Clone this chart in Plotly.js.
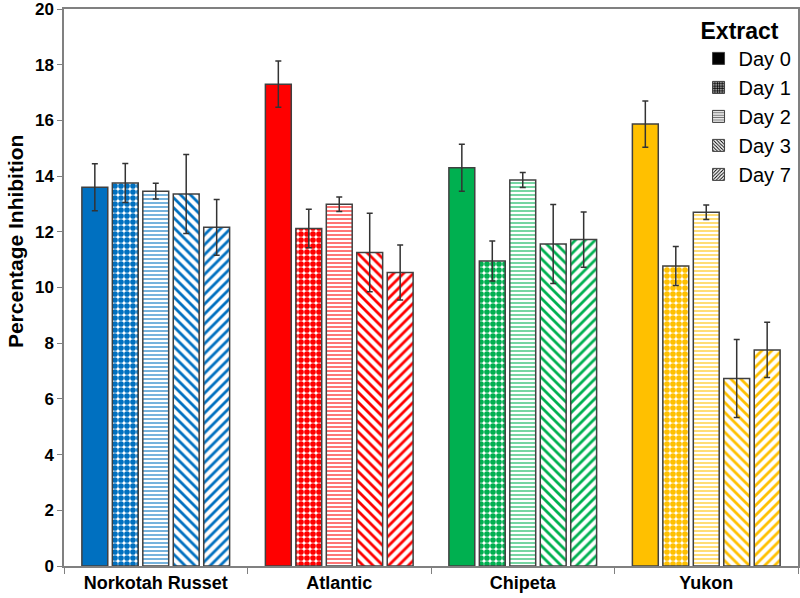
<!DOCTYPE html>
<html>
<head>
<meta charset="utf-8">
<script src="https://cdn.plot.ly/plotly-3.0.1.min.js"></script>
<style>html,body{margin:0;padding:0;background:#fff;}#chart{width:800px;height:598px;}</style>
</head>
<body>
<div id="chart"></div>
<script>
const categories = ["Norkotah Russet", "Atlantic", "Chipeta", "Yukon"];
const days = ["Day 0", "Day 1", "Day 2", "Day 3", "Day 7"];
const colors = ["#0070C0", "#FF0000", "#00B050", "#FFC000"];
const day0 = [13.6, 17.3, 14.3, 15.87];
const day1 = [13.75, 12.12, 10.95, 10.77];
const day2 = [13.46, 12.99, 13.86, 12.7];
const day3 = [13.36, 11.26, 11.56, 6.73];
const day7 = [12.16, 10.54, 11.72, 7.76];
const err0 = [0.84, 0.83, 0.84, 0.83];
const err1 = [0.7, 0.69, 0.72, 0.7];
const err2 = [0.28, 0.26, 0.27, 0.26];
const err3 = [1.42, 1.41, 1.42, 1.4];
const err7 = [1.0, 0.99, 0.99, 0.99];
const yTitle = "Percentage Inhibition";

const values = [day0, day1, day2, day3, day7];
const errors = [err0, err1, err2, err3, err7];
const patterns = [
  {shape: ""},
  {shape: ".", size: 6, solidity: 0.7},
  {shape: "-", size: 4, solidity: 0.45, fgopacity: 0.6},
  {shape: "\\", size: 7, solidity: 0.4},
  {shape: "/", size: 7, solidity: 0.4}
];

const traces = [];
days.forEach((d, i) => {
  const pat = Object.assign({}, patterns[i]);
  if (pat.shape) { pat.fgcolor = colors; pat.bgcolor = "#ffffff"; pat.fillmode = "replace"; }
  traces.push({
    type: "bar", x: categories, y: values[i], name: d, showlegend: false,
    marker: {color: colors, line: {color: "#404040", width: 1.5}, pattern: pat},
    error_y: {type: "data", array: errors[i], visible: true, color: "#333333", thickness: 1.5, width: 3}
  });
});
// legend-only swatches (black), on a hidden overlay axis
days.forEach((d, i) => {
  const pat = Object.assign({}, patterns[i]);
  if (pat.shape) { pat.fgcolor = "#000000"; pat.bgcolor = "#ffffff"; pat.fillmode = "replace"; pat.size = 3; }
  traces.push({
    type: "bar", x: ["_"], y: [0], name: d, xaxis: "x2", yaxis: "y2", showlegend: true,
    marker: {color: "#000000", line: {color: "#404040", width: 1}, pattern: pat},
    hoverinfo: "skip"
  });
});

const layout = {
  width: 800, height: 598,
  margin: {l: 64, r: 2, t: 9, b: 32},
  paper_bgcolor: "#ffffff", plot_bgcolor: "#ffffff",
  font: {family: "Liberation Sans, Arial, sans-serif", color: "#000000"},
  barmode: "group", bargap: 0.17, bargroupgap: 0.15,
  xaxis: {
    type: "category", tickson: "boundaries", ticks: "outside", ticklen: 6, tickcolor: "#808080",
    showline: true, linecolor: "#808080", linewidth: 1.5, mirror: true, showgrid: false,
    tickfont: {size: 18, weight: "bold", color: "#000"}
  },
  yaxis: {
    range: [0, 20], dtick: 2, ticks: "outside", ticklen: 5, tickcolor: "#808080",
    showline: true, linecolor: "#808080", linewidth: 1.5, mirror: true, showgrid: false, zeroline: false,
    tickfont: {size: 17, weight: "bold", color: "#000"}, ticklabeloverflow: "allow"
  },
  xaxis2: {type: "category", overlaying: "x", visible: false},
  yaxis2: {overlaying: "y", visible: false, range: [1, 2]},
  annotations: [{
    text: yTitle, textangle: -90, xref: "paper", yref: "paper",
    x: -0.067, y: 0.583, xanchor: "center", yanchor: "middle", showarrow: false,
    font: {size: 21, weight: "bold", color: "#000"}
  }],
  legend: {
    x: 0.998, xanchor: "right", y: 1.0, yanchor: "top",
    bgcolor: "rgba(0,0,0,0)", font: {size: 20}, tracegroupgap: 0,
    title: {text: "<b>Extract</b>", side: "top", font: {size: 23}},
    itemwidth: 30
  }
};

Plotly.newPlot("chart", traces, layout, {displayModeBar: false});
</script>
</body>
</html>
